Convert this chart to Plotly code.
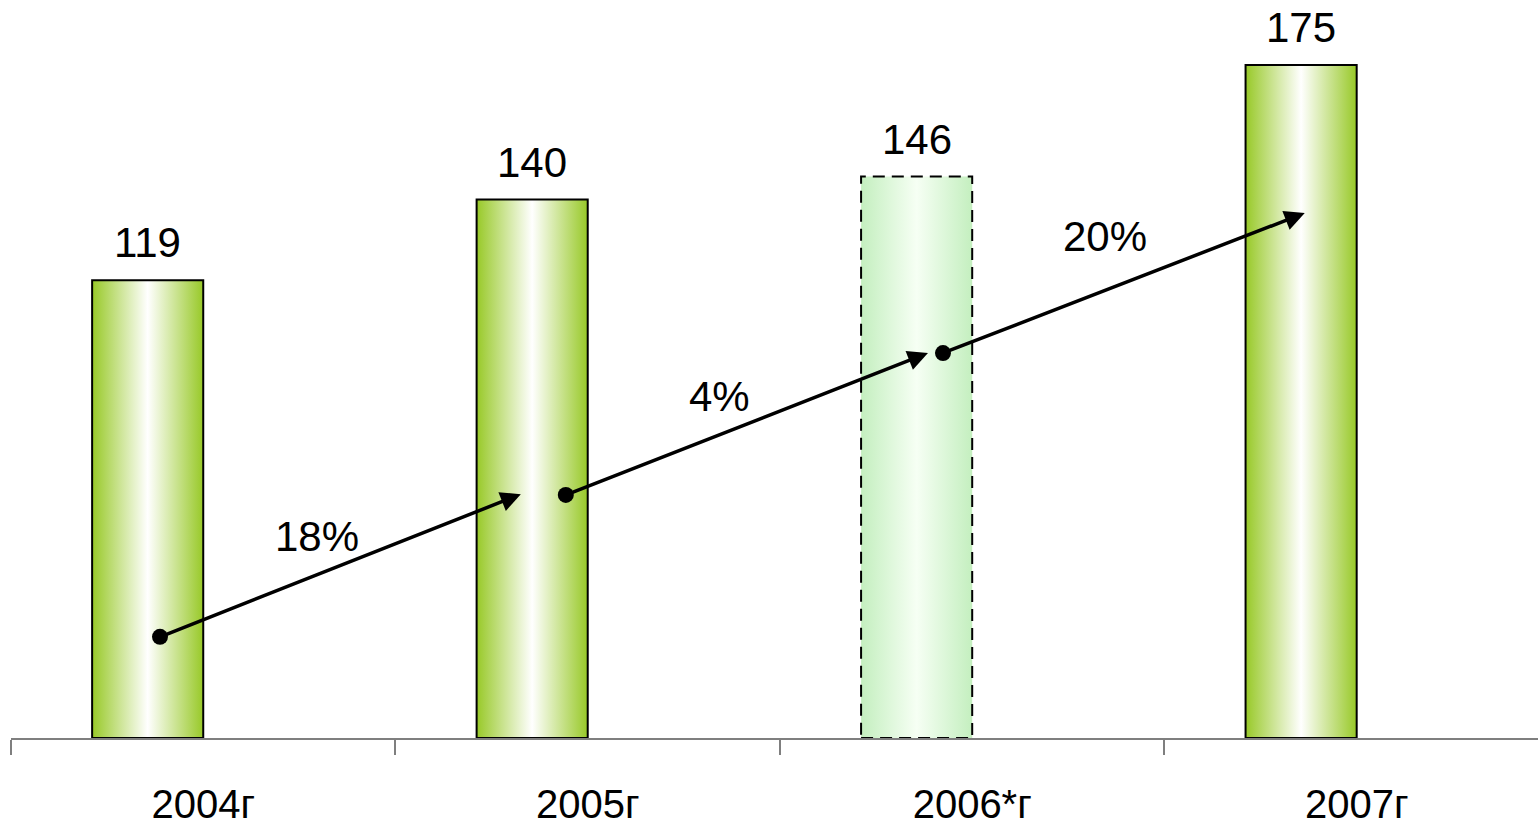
import plotly.graph_objects as go

# Data
years = ["2004г", "2005г", "2006*г", "2007г"]
values = [119, 140, 146, 175]
estimated = [False, False, True, False]  # 2006 is an estimate

# Layout constants
BAR_W = 0.289          # bar width in category units; bar sits left of the category centre
Y_MAX = 191.9
FONT = "Liberation Sans, Arial, sans-serif"

GREEN_SCALE = [[0, "#98c928"], [0.5, "#ffffff"], [1, "#98c928"]]
PALE_SCALE = [[0, "#c4efbf"], [0.5, "#f6fff4"], [1, "#c4efbf"]]

fig = go.Figure()

for i, (v, est) in enumerate(zip(values, estimated)):
    x0, x1 = i - BAR_W, i
    fig.add_trace(go.Scatter(
        x=[x0, x1, x1, x0, x0],
        y=[0, 0, v, v, 0],
        mode="lines",
        fill="toself",
        fillgradient=dict(type="horizontal",
                          colorscale=PALE_SCALE if est else GREEN_SCALE),
        line=dict(color="black", width=2, dash="12px,7px" if est else "solid"),
        hoverinfo="skip",
        showlegend=False,
    ))
    fig.add_annotation(
        x=(x0 + x1) / 2, y=v, text=str(v), showarrow=False,
        yanchor="bottom", yshift=12,
        font=dict(family=FONT, size=42, color="black"),
    )

# Growth arrows between consecutive years (tail -> head, in data coordinates)
arrow_tails = [(-0.1125, 26.3), (0.943, 63.2), (1.924, 100.1)]
arrow_heads = [(0.826, 63.4), (1.885, 100.1), (2.865, 136.5)]
label_shift = [(-0.06, 7.5), (-0.07, 7.2), (-0.05, 12.0)]

for k, ((tx, ty), (hx, hy), (dx, dy)) in enumerate(zip(arrow_tails, arrow_heads, label_shift)):
    growth = round((values[k + 1] / values[k] - 1) * 100)
    fig.add_annotation(
        x=hx, y=hy, ax=tx, ay=ty, axref="x", ayref="y", xref="x", yref="y",
        text="", showarrow=True, arrowhead=2, arrowsize=1.15, arrowwidth=3.5,
        arrowcolor="black", standoff=0, startstandoff=0,
    )
    fig.add_annotation(
        x=(tx + hx) / 2 + dx, y=(ty + hy) / 2 + dy, text=f"{growth}%",
        showarrow=False, font=dict(family=FONT, size=42, color="black"),
    )

fig.add_trace(go.Scatter(
    x=[t[0] for t in arrow_tails], y=[t[1] for t in arrow_tails],
    mode="markers", marker=dict(color="black", size=16),
    hoverinfo="skip", showlegend=False,
))

fig.update_layout(
    width=1538, height=828,
    margin=dict(l=11, r=0, t=0, b=90),
    plot_bgcolor="white", paper_bgcolor="white",
    showlegend=False,
    xaxis=dict(
        range=[-0.5, 3.4716], automargin=False,
        tickmode="array", tickvals=list(range(len(years))), ticktext=years,
        ticks="", ticklabelstandoff=30,
        tickfont=dict(family=FONT, size=40, color="black"),
        showline=True, linecolor="#7f7f7f", linewidth=2,
        showgrid=False, zeroline=False,
        minor=dict(tickmode="array",
                   tickvals=[i - 0.5 for i in range(len(years))],
                   ticks="outside", ticklen=15, tickwidth=2, tickcolor="#7f7f7f",
                   showgrid=False),
    ),
    yaxis=dict(range=[0, Y_MAX], visible=False, showgrid=False, zeroline=False,
               automargin=False),
)

fig.write_html("out.html")
